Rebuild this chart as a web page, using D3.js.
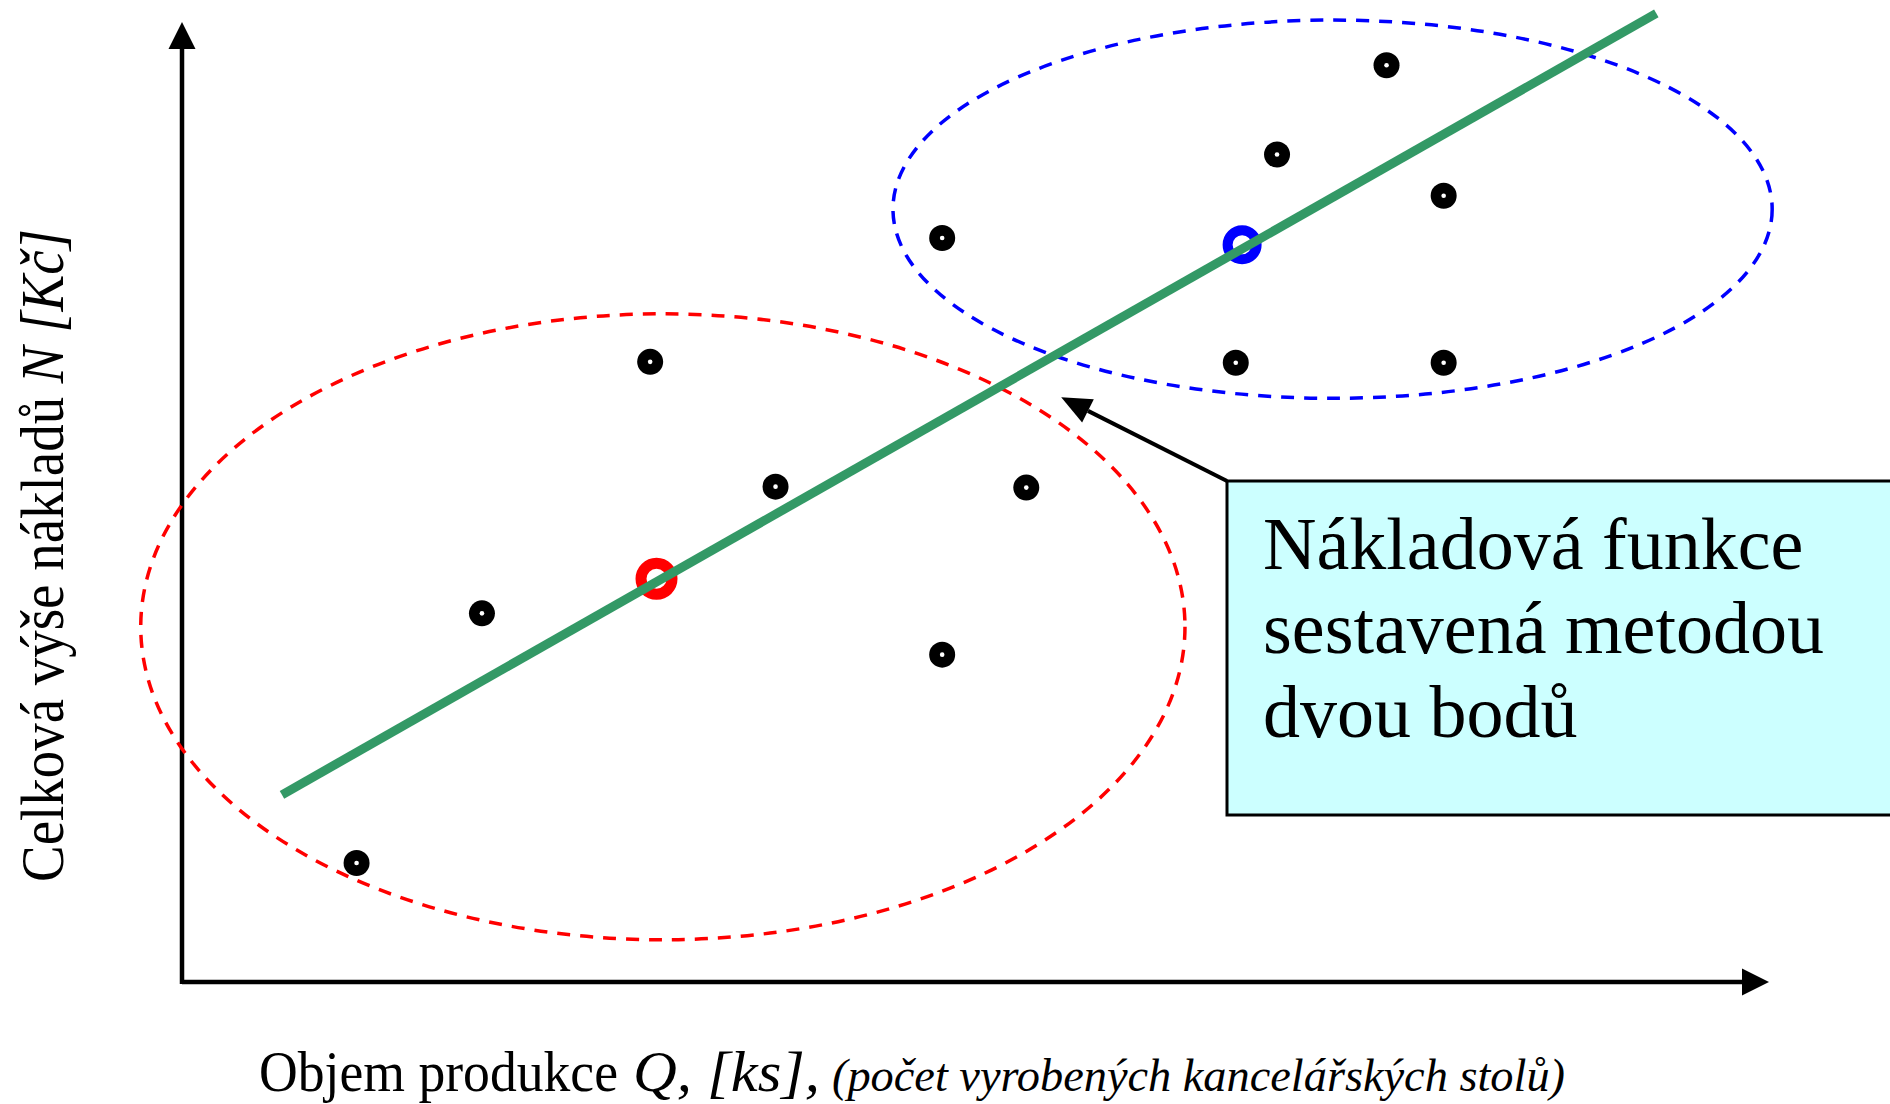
<!DOCTYPE html>
<html>
<head>
<meta charset="utf-8">
<script src="https://cdn.jsdelivr.net/npm/d3@7"></script>
<style>
body { margin: 0; background: #fff; }
svg { display: block; }
</style>
</head>
<body>
<div id="chart"></div>
<script>
const qValues = [11.0, 18.9, 29.5, 37.4, 53.2, 47.9, 47.9, 66.4, 79.5, 69.0, 79.5, 75.9];
const nValues = [12.4, 38.4, 64.6, 51.6, 51.5, 34.1, 77.5, 64.5, 64.5, 86.2, 81.9, 95.5];

// the two representative points (low group / high group)
const repQ = [29.9, 66.8];
const repN = [42.0, 76.8];
const repColors = ["#ff0000", "#0000ff"];

// ends of the cost function line
const lineQ = [6.3, 92.9];
const lineN = [19.5, 100.9];

// groups drawn as dashed ellipses
const groupColors = ["#ff0000", "#0000ff"];
const groupCenterQ = [30.3, 72.5];
const groupCenterN = [37.0, 80.5];
const groupRadiusQ = [32.9, 27.7];
const groupRadiusN = [32.6, 19.7];

const boxLines = ["Nákladová funkce", "sestavená metodou", "dvou bodů"];
const arrowTarget = [55.4, 60.9];

const width = 1890, height = 1104;
const serif = "'Liberation Serif', Tinos, 'Times New Roman', 'DejaVu Serif', serif";

const svg = d3.select("#chart").append("svg")
    .attr("width", width)
    .attr("height", height)
    .attr("font-family", serif)
    .style("font-family", serif);

const x = d3.scaleLinear().domain([0, 100]).range([182, 1769]);
const y = d3.scaleLinear().domain([0, 100]).range([982, 22]);

// axes with arrow heads
const headLen = 27, headHalf = 13.5;
svg.append("line")
    .attr("x1", x(0)).attr("y1", y(0))
    .attr("x2", x(100) - headLen).attr("y2", y(0))
    .attr("stroke", "#000").attr("stroke-width", 4.5);
svg.append("line")
    .attr("x1", x(0)).attr("y1", y(0) + 2)
    .attr("x2", x(0)).attr("y2", y(100) + headLen)
    .attr("stroke", "#000").attr("stroke-width", 4.5);
svg.append("path")
    .attr("d", `M${x(100)},${y(0)} L${x(100) - headLen},${y(0) - headHalf} L${x(100) - headLen},${y(0) + headHalf} Z`)
    .attr("fill", "#000");
svg.append("path")
    .attr("d", `M${x(0)},${y(100)} L${x(0) - headHalf},${y(100) + headLen} L${x(0) + headHalf},${y(100) + headLen} Z`)
    .attr("fill", "#000");

// dashed group ellipses
svg.append("g").selectAll("ellipse")
    .data(groupColors.map((c, i) => i))
    .enter().append("ellipse")
    .attr("cx", i => x(groupCenterQ[i]))
    .attr("cy", i => y(groupCenterN[i]))
    .attr("rx", i => x(groupCenterQ[i] + groupRadiusQ[i]) - x(groupCenterQ[i]))
    .attr("ry", i => y(groupCenterN[i]) - y(groupCenterN[i] + groupRadiusN[i]))
    .attr("fill", "none")
    .attr("stroke", i => groupColors[i])
    .attr("stroke-width", 3.5)
    .attr("stroke-dasharray", "13 10");

// observed points: black dot with small white centre
const pts = svg.append("g").selectAll("g")
    .data(qValues.map((q, i) => ({ q: q, n: nValues[i] })))
    .enter().append("g")
    .attr("transform", d => `translate(${x(d.q)},${y(d.n)})`);
pts.append("circle").attr("r", 13).attr("fill", "#000");
pts.append("circle").attr("r", 2.3).attr("fill", "#fff");

// two representative points
svg.append("g").selectAll("circle")
    .data(repQ.map((q, i) => i))
    .enter().append("circle")
    .attr("cx", i => x(repQ[i]))
    .attr("cy", i => y(repN[i]))
    .attr("r", i => i === 0 ? 15.5 : 14.5)
    .attr("fill", "none")
    .attr("stroke", i => repColors[i])
    .attr("stroke-width", i => i === 0 ? 11 : 10);

// cost function line
svg.append("path")
    .datum(lineQ.map((q, i) => [q, lineN[i]]))
    .attr("d", d3.line().x(d => x(d[0])).y(d => y(d[1])))
    .attr("stroke", "#339966")
    .attr("stroke-width", 9)
    .attr("fill", "none");

// annotation box
const box = { x: 1227, y: 481, w: 700, h: 334 };
svg.append("rect")
    .attr("x", box.x).attr("y", box.y)
    .attr("width", box.w).attr("height", box.h)
    .attr("fill", "#ccffff")
    .attr("stroke", "#000")
    .attr("stroke-width", 3);

svg.append("g").selectAll("text")
    .data(boxLines)
    .enter().append("text")
    .attr("x", 1263)
    .attr("y", (d, i) => 569 + i * 84)
    .style("font-size", "74px")
    .text(d => d);

// arrow from box corner to the line
const tx = x(arrowTarget[0]), ty = y(arrowTarget[1]);
const ang = Math.atan2(ty - box.y, tx - box.x);
const aLen = 30, aHalf = 13;
const bx = tx - aLen * Math.cos(ang), by = ty - aLen * Math.sin(ang);
svg.append("line")
    .attr("x1", box.x).attr("y1", box.y)
    .attr("x2", bx).attr("y2", by)
    .attr("stroke", "#000").attr("stroke-width", 4);
svg.append("path")
    .attr("d", `M${tx},${ty} L${bx + aHalf * Math.sin(ang)},${by - aHalf * Math.cos(ang)} L${bx - aHalf * Math.sin(ang)},${by + aHalf * Math.cos(ang)} Z`)
    .attr("fill", "#000");

// y axis title
const yt = svg.append("text")
    .attr("transform", "translate(63,555.5) rotate(-90)")
    .attr("text-anchor", "middle")
    .attr("textLength", 653)
    .attr("lengthAdjust", "spacingAndGlyphs")
    .style("font-size", "62px");
yt.append("tspan").text("Celková výše nákladů ");
yt.append("tspan").style("font-style", "italic").text("N [Kč]");

// x axis title
svg.append("text")
    .attr("x", 259).attr("y", 1091)
    .attr("textLength", 359).attr("lengthAdjust", "spacingAndGlyphs")
    .style("font-size", "58px")
    .text("Objem produkce");
svg.append("text")
    .attr("x", 633).attr("y", 1091)
    .attr("textLength", 187).attr("lengthAdjust", "spacingAndGlyphs")
    .style("font-size", "58px").style("font-style", "italic")
    .text("Q, [ks],");
svg.append("text")
    .attr("x", 832).attr("y", 1091)
    .attr("textLength", 733).attr("lengthAdjust", "spacingAndGlyphs")
    .style("font-size", "47px").style("font-style", "italic")
    .text("(počet vyrobených kancelářských stolů)");
</script>
</body>
</html>
